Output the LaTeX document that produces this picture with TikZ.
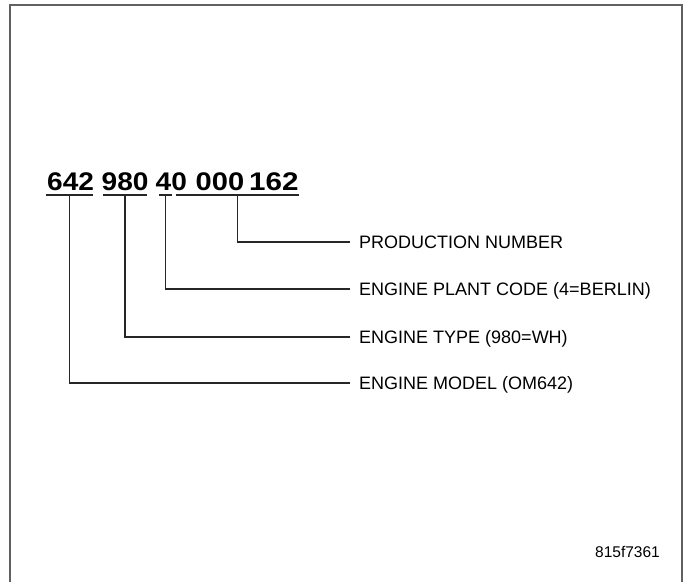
\documentclass[tikz,border=0pt]{standalone}
\usepackage{fontspec}
\setmainfont{Liberation Sans}
\begin{document}
\begin{tikzpicture}[x=1pt,y=-1pt,
  bignum/.style={anchor=base west,inner sep=0pt,font=\fontsize{25.5}{25.5}\selectfont\bfseries},
  lab/.style={anchor=west,inner xsep=9pt,inner ysep=0pt,text height=13pt,text depth=0pt,font=\fontsize{18}{18}\selectfont},
  conn/.style={line width=1.4pt,draw=black!85},
  uline/.style={line width=1.4pt,draw=black!85},
  frame/.style={line width=2pt,draw=black!62}]
\useasboundingbox (0,0) rectangle (684,582);
\draw[frame] (10,582) -- (10,5) -- (682,5) -- (682,582);
% number groups
\node[bignum] (g642) at (47,190) {\scalebox{1.1}[1]{642}};
\node[bignum] (g980) at (101.5,190) {\scalebox{1.1}[1]{980}};
\node[bignum] (g40)  at (155.5,190) {\scalebox{1.1}[1]{40}};
\node[bignum] (g000) at (195.5,190) {\scalebox{1.14}[1]{000}};
\node[bignum] (g162) at (249,190) {\scalebox{1.16}[1]{162}};
% underlines
\draw[uline] (46,195) -- coordinate (u1) (93,195);
\draw[uline] (103,195) -- coordinate (u2) (147,195);
\draw[uline] (159,195) -- coordinate (u3) (172,195);
\draw[uline] (176,195) -- coordinate (u4) (299,195);
% labels
\node[lab] (l4) at (350,242) {PRODUCTION NUMBER};
\node[lab] (l3) at (350,289) {ENGINE PLANT CODE (4=BERLIN)};
\node[lab] (l2) at (350,337) {ENGINE TYPE (980=WH)};
\node[lab] (l1) at (350,383) {ENGINE MODEL (OM642)};
% connectors
\draw[conn] (u4) |- (l4.west);
\draw[conn] (u3) |- (l3.west);
\draw[conn] (u2) |- (l2.west);
\draw[conn] (u1) |- (l1.west);
\node[anchor=base west,inner sep=0pt,font=\fontsize{15.5}{15.5}\selectfont] (fig) at (595,557) {815f7361};
\end{tikzpicture}
\end{document}
